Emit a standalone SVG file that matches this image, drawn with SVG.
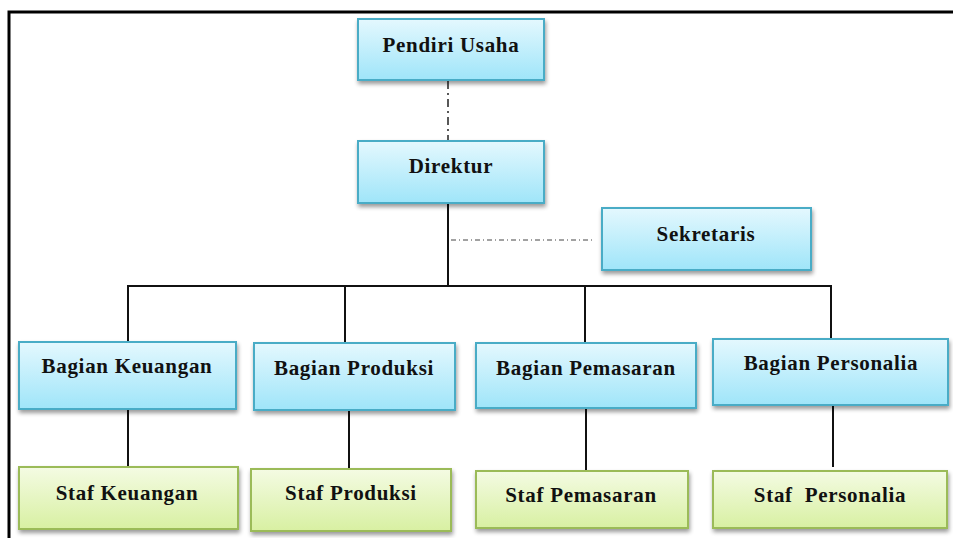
<svg xmlns="http://www.w3.org/2000/svg" width="953" height="538" viewBox="0 0 953 538">
<defs>
<linearGradient id="gb" x1="0" y1="0" x2="0" y2="1">
<stop offset="0" stop-color="#e4f8fe"/>
<stop offset="1" stop-color="#9fe5f9"/>
</linearGradient>
<linearGradient id="gg" x1="0" y1="0" x2="0" y2="1">
<stop offset="0" stop-color="#f4fbe3"/>
<stop offset="1" stop-color="#d8f0a2"/>
</linearGradient>
<filter id="sh" x="-10%" y="-10%" width="125%" height="140%">
<feGaussianBlur in="SourceAlpha" stdDeviation="2"/>
<feOffset dx="1" dy="3" result="b"/>
<feComponentTransfer><feFuncA type="linear" slope="0.4"/></feComponentTransfer>
<feMerge><feMergeNode/><feMergeNode in="SourceGraphic"/></feMerge>
</filter>
</defs>
<style>
.b{fill:url(#gb);stroke:#4aacc6;stroke-width:2;filter:url(#sh)}
.g{fill:url(#gg);stroke:#9bbb59;stroke-width:2;filter:url(#sh)}
text{font-family:"Liberation Serif","Times New Roman",serif;font-weight:bold;font-size:21px;letter-spacing:0.7px;fill:#111;text-anchor:middle}
.ln{stroke:#111;stroke-width:2;fill:none}
.dd{stroke:#222;stroke-width:1.5;fill:none;stroke-dasharray:8 4 2 4}
.dh{stroke:#444;stroke-width:1;fill:none;stroke-dasharray:5 3 1 3}
</style>
<rect width="953" height="538" fill="#fff"/>
<path d="M9 538V12H953" fill="none" stroke="#000" stroke-width="3"/>
<g id="connectors">
<path class="dd" d="M448 81V141"/>
<path class="ln" d="M448 203V287"/>
<path class="dh" d="M451 240H594"/>
<path class="ln" d="M128 342V286H831V340M345 285V342M585 285V343"/>
<path class="ln" d="M128 409V467M349 410V469M586 408V471M833 405V467"/>
</g>
<g id="pendiri"><rect class="b" x="358" y="19" width="186" height="61"/><text x="451" y="52">Pendiri Usaha</text></g>
<g id="direktur"><rect class="b" x="358" y="141" width="186" height="62"/><text x="451" y="173">Direktur</text></g>
<g id="sekretaris"><rect class="b" x="602" y="208" width="209" height="62"/><text x="706" y="241">Sekretaris</text></g>
<g id="bagian-keuangan"><rect class="b" x="19" y="342" width="217" height="67"/><text x="127" y="373">Bagian Keuangan</text></g>
<g id="bagian-produksi"><rect class="b" x="254" y="343" width="201" height="67"/><text x="354" y="375">Bagian Produksi</text></g>
<g id="bagian-pemasaran"><rect class="b" x="476" y="343" width="220" height="65"/><text x="586" y="375">Bagian Pemasaran</text></g>
<g id="bagian-personalia"><rect class="b" x="713" y="339" width="235" height="66"/><text x="831" y="370">Bagian Personalia</text></g>
<g id="staf-keuangan"><rect class="g" x="19" y="467" width="219" height="62"/><text x="127" y="500">Staf Keuangan</text></g>
<g id="staf-produksi"><rect class="g" x="251" y="469" width="200" height="62"/><text x="351" y="500">Staf Produksi</text></g>
<g id="staf-pemasaran"><rect class="g" x="476" y="471" width="212" height="57"/><text x="581" y="502">Staf Pemasaran</text></g>
<g id="staf-personalia"><rect class="g" x="713" y="471" width="234" height="57"/><text x="830" y="502" xml:space="preserve">Staf  Personalia</text></g>
</svg>
